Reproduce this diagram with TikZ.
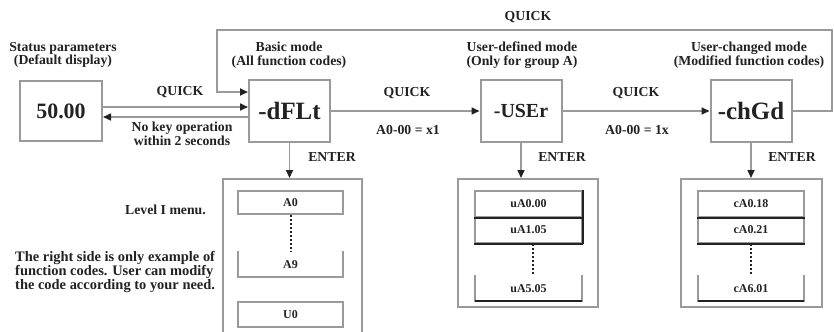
\documentclass[tikz,border=0pt]{standalone}
\usepackage{fontspec}
\setmainfont{Liberation Serif}
\usetikzlibrary{arrows.meta}
\definecolor{lg}{HTML}{9A9A9A}
\definecolor{dk}{HTML}{222222}
\begin{document}
\begin{tikzpicture}[x=1bp,y=-1bp,
  every node/.style={font=\bfseries\fontsize{13.8}{13.5}\selectfont, inner sep=0pt, align=center, text=dk},
  modebox/.style={draw=lg, line width=2bp, minimum width=81bp, minimum height=62bp, font=\bfseries\fontsize{25}{28}\selectfont},
  panel/.style={draw=lg, line width=2bp},
  itembox/.style={draw=lg, line width=2bp, minimum height=24bp, font=\bfseries\fontsize{12}{12}\selectfont},
  itemtext/.style={font=\bfseries\fontsize{12}{12}\selectfont},
  conn/.style={draw=lg, line width=1.6bp, -{Triangle[length=8bp,width=7bp,color=dk]}},
  blk/.style={draw=dk, line width=2.5bp},
  dots/.style={draw=dk, line width=2bp, dotted}]
\clip (0,0) rectangle (834,331);
\fill[white] (0,0) rectangle (834,331);
% mode boxes
\node[modebox, minimum width=82bp, minimum height=60bp, font=\bfseries\fontsize{22}{24}\selectfont] (disp) at (61,111) {50.00};
\node[modebox] (dflt) at (289.5,111) {-dFLt};
\node[modebox, font=\bfseries\fontsize{20}{24}\selectfont] (user) at (521,111) {-USEr};
\node[modebox] (chgd) at (751,111) {-chGd};
% headers
\node (hdisp) at (63,55) {Status parameters\\(Default display)};
\node (hdflt) at (289,55) {Basic mode\\(All function codes)};
\node (huser) at (522,55) {User-defined mode\\(Only for group A)};
\node (hchgd) at (749,55) {User-changed mode\\(Modified function codes)};
% connectors between modes
\draw[conn] ([yshift=4bp]disp.east) -- ([yshift=4bp]dflt.west);
\draw[conn] ([yshift=-6bp]dflt.west) -- ([yshift=-6bp]disp.east);
\draw[conn] (dflt.east) -- (user.west);
\draw[conn] (user.east) -- (chgd.west);
\coordinate (loopR) at (832,30);
\coordinate (loopL) at (217,30);
\draw[conn, line width=2bp] (chgd.east) -| (loopR) -- (loopL) |- ([yshift=19bp]dflt.west);
% connector labels
\node (q1) at (180,92) {QUICK};
\node (nokey) at (182,134) {No key operation\\within 2 seconds};
\node (q2) at (407,93) {QUICK};
\node (c1) at (408,130) {A0-00 = x1};
\node (q3) at (636,93) {QUICK};
\node (c2) at (637,130) {A0-00 = 1x};
\node (qtop) at (528,17) {QUICK};
% panels
\node[panel, minimum width=139bp, minimum height=182bp] (p1) at (292.5,270) {};
\node[panel, minimum width=140bp, minimum height=128bp] (p2) at (528,243) {};
\node[panel, minimum width=141bp, minimum height=128bp] (p3) at (751.5,243) {};
% enter arrows
\draw[conn] (dflt.south) -- (dflt.south |- p1.north);
\draw[conn] (user.south) -- (user.south |- p2.north);
\draw[conn] (chgd.south) -- (chgd.south |- p3.north);
\node (e1) at (332,157) {ENTER};
\node (e2) at (562,157) {ENTER};
\node (e3) at (792,157) {ENTER};
% panel 1 items
\node[itembox, minimum width=105bp, minimum height=23bp] (a1) at (290.5,202.5) {A0};
\coordinate (a2tl) at (238,251);
\coordinate (a2tr) at (343,251);
\coordinate (a2bl) at (238,277);
\coordinate (a2br) at (343,277);
\draw[panel] (a2tl) -- (a2bl) -- (a2br) -- (a2tr);
\node[itemtext] (a2) at (290.5,265) {A9};
\draw[dots] (a1.south) -- (a2 |- a2tl);
\node[itembox, minimum width=105bp, minimum height=25bp] (a3) at (290.5,314.5) {U0};
% panel 2 items
\node[itembox, minimum width=107bp, minimum height=26bp] (b1) at (528.5,204) {uA0.00};
\node[itembox, minimum width=107bp, minimum height=26bp] (b2) at (528.5,230) {uA1.05};
\coordinate (b3tl) at (475,275);
\coordinate (b3tr) at (582,275);
\coordinate (b3bl) at (475,301);
\coordinate (b3br) at (582,301);
\draw[panel] (b3tl) -- (b3bl) -- (b3br) -- (b3tr);
\node[itemtext] (b3) at (528.5,289) {uA5.05};
\draw[blk] (b1.south west) -- (b1.south east);
\draw[blk] (b2.south west) -- (b2.south east);
\draw[blk] (b3bl) -- (b3br);
\draw[draw=dk, line width=1.2bp] (b1.north east) -- (b2.south east);
\draw[dots] ([xshift=4bp]b2.south) -- ([xshift=4bp]b3 |- b3tl);
% panel 3 items
\node[itembox, minimum width=106bp, minimum height=26bp] (c1b) at (751,204) {cA0.18};
\node[itembox, minimum width=106bp, minimum height=26bp] (c2b) at (751,230) {cA0.21};
\coordinate (c3tl) at (698,275);
\coordinate (c3tr) at (804,275);
\coordinate (c3bl) at (698,301);
\coordinate (c3br) at (804,301);
\draw[panel] (c3tl) -- (c3bl) -- (c3br) -- (c3tr);
\node[itemtext] (c3b) at (751,289) {cA6.01};
\draw[blk] (c1b.south west) -- (c1b.south east);
\draw[blk] (c2b.south west) -- (c2b.south east);
\draw[blk] (c3bl) -- (c3br);
\draw[dots] (c2b.south) -- (c3b |- c3tl);
% left texts
\node[anchor=east] (lvl) at (206,210) {Level I menu.};
\node[anchor=west, align=left, font=\bfseries\fontsize{14.5}{14}\selectfont] (note) at (15,272) {The right side is only example of\\function codes. User can modify\\the code according to your need.};
\end{tikzpicture}
\end{document}
